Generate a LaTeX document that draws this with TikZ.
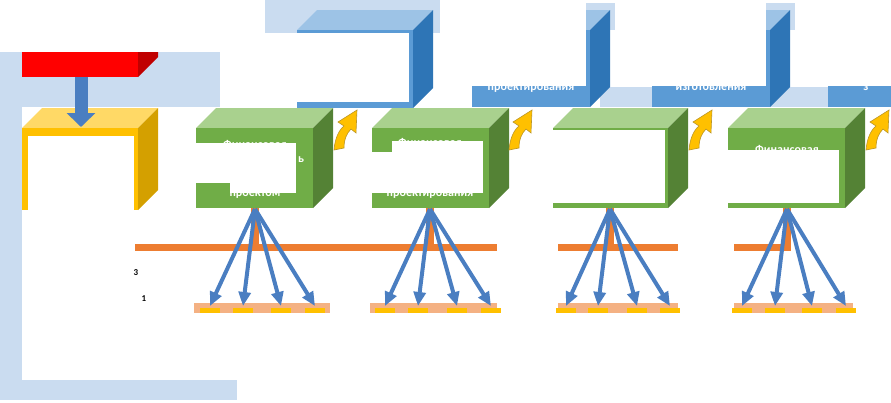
\documentclass[tikz,border=0pt]{standalone}
\usepackage{fontspec}
\setmainfont{Carlito}
\usetikzlibrary{arrows.meta}

\definecolor{paleblue}{RGB}{202,220,240}
\definecolor{bluetop}{RGB}{157,195,230}
\definecolor{bluefront}{RGB}{91,155,213}
\definecolor{blueside}{RGB}{46,117,182}
\definecolor{redfront}{RGB}{255,0,0}
\definecolor{redside}{RGB}{192,0,0}
\definecolor{yeltop}{RGB}{255,217,102}
\definecolor{yelfront}{RGB}{255,192,0}
\definecolor{yelside}{RGB}{212,160,0}
\definecolor{grtop}{RGB}{169,209,142}
\definecolor{grfront}{RGB}{112,173,71}
\definecolor{grside}{RGB}{84,130,53}
\definecolor{orng}{RGB}{237,125,49}
\definecolor{salmon}{RGB}{244,177,131}
\definecolor{fanblue}{RGB}{74,126,193}

\tikzset{
  boxtext/.style={text=white, font=\bfseries\fontsize{12}{14}\selectfont, inner sep=0pt},
  fanarrow/.style={fanblue, line width=4pt, -{Triangle[width=12pt,length=14pt]}},
  downarrow/.style={fanblue, line width=13pt, -{Triangle[width=28pt,length=14pt]}},
  bentarrow/.style={fill=yelfront, draw=yelside!70!gray, line width=0.6pt},
  cover/.style={fill=white}
}

% 3D box: front x1,y1,x2,y2, then top, front and side colours
\newcommand\boxthreed[7]{%
  \fill[#5] (#1,#2) -- (#1+20,#2-20) -- (#3+20,#2-20) -- (#3,#2) -- cycle;
  \fill[#6] (#1,#2) rectangle (#3,#4);
  \fill[#7] (#3,#2) -- (#3+20,#2-20) -- (#3+20,#4-20) -- (#3,#4) -- cycle;}

% yellow bent arrow, from its lower left corner
\newcommand\bentarrow[1]{%
  \draw[bentarrow, shift={#1}] (0,0) .. controls (1,-12) and (5,-20) .. (10,-24)
    -- (4,-28) -- (23,-40) -- (22,-17) -- (17,-21) .. controls (13,-17) and (10,-11) .. (10,-2) -- cycle;}

\begin{document}
\begin{tikzpicture}[x=1pt, y=-1pt]
\useasboundingbox (0,0) rectangle (891,402);

% shadows
\fill[paleblue] (0,52) rectangle (220,107);
\fill[paleblue] (0,52) rectangle (22,400);
\fill[paleblue] (0,380) rectangle (237,400);
\fill[paleblue] (265,0) rectangle (440,33);
\fill[paleblue] (585,3) rectangle (615,30);
\fill[paleblue] (765,3) rectangle (795,30);
\fill[paleblue] (600,87) rectangle (652,107);
\fill[paleblue] (770,87) rectangle (830,107);

% red bar
\fill[redfront] (22,52) rectangle (138,77);
\fill[redside] (138,52) -- (158,52) -- (158,57) -- (138,77) -- cycle;

% blue boxes
\boxthreed{297}{30}{413}{108}{bluetop}{bluefront}{blueside}
\fill[cover] (297,33) rectangle (409,102);
\boxthreed{472}{30}{590}{107}{bluetop}{bluefront}{blueside}
\boxthreed{652}{30}{770}{107}{bluetop}{bluefront}{blueside}
\fill[bluefront] (828,86) rectangle (891,107);
\node[boxtext] (proj) at (531,88) {проектирования};
\node[boxtext] (izg) at (711,88) {изготовления};
\node[boxtext] (ekspl) at (866,88) {з};
\fill[cover] (440,0) rectangle (586,86);
\fill[cover] (615,0) rectangle (766,86);
\fill[cover] (795,0) rectangle (891,86);

% yellow box
\boxthreed{22}{128}{138}{210}{yeltop}{yelfront}{yelside}
\fill[cover] (28,136) rectangle (134,210);
\coordinate (redbot) at (81,77);
\coordinate (yelin) at (81,127);
\draw[downarrow] (redbot) -- (yelin);

% green boxes
\boxthreed{196}{128}{313}{208}{grtop}{grfront}{grside}
\node[boxtext] (fin1) at (255,144) {Финансовая};
\node[boxtext] (pr1) at (255,194) {проектом};
\node[boxtext] (mid1) at (301,160) {ь};
\fill[cover] (230,143) rectangle (296,193);
\fill[cover] (196,143) rectangle (230,183);

\boxthreed{372}{128}{489}{208}{grtop}{grfront}{grside}
\node[boxtext] (fin2) at (430,142) {Финансовая};
\node[boxtext] (pr2) at (430,194) {проектирования};
\fill[cover] (392,141) rectangle (483,193);
\fill[cover] (372,152) rectangle (392,193);

\boxthreed{553}{128}{668}{208}{grtop}{grfront}{grside}
\fill[cover] (553,130) rectangle (665,203);

\boxthreed{728}{128}{845}{208}{grtop}{grfront}{grside}
\node[boxtext] (fin4) at (787,149) {Финансовая};
\fill[cover] (728,150) rectangle (839,203);

% bent arrows
\bentarrow{(334,150)}
\bentarrow{(509,150)}
\bentarrow{(689,150)}
\bentarrow{(866,150)}

% orange rails
\fill[orng] (135,244) rectangle (497,251);
\fill[orng] (558,244) rectangle (678,251);
\fill[orng] (734,244) rectangle (791,251);
\fill[orng] (251,208) rectangle (259,250);
\fill[orng] (426,208) rectangle (434,250);
\fill[orng] (606,208) rectangle (614,250);
\fill[orng] (783,208) rectangle (791,250);

% salmon bars
\fill[salmon] (194,303) rectangle (330,313);
\fill[salmon] (370,303) rectangle (497,313);
\fill[salmon] (558,303) rectangle (678,313);
\fill[salmon] (734,303) rectangle (853,313);

% fan arrows
\coordinate (g1) at (255,209);
\coordinate (g2) at (430,209);
\coordinate (g3) at (610,209);
\coordinate (g4) at (787,209);
\foreach \g/\a/\b/\c/\d in {1/210/243/281/315, 2/385/418/457/491, 3/566/598/637/670, 4/742/775/812/846}{
  \foreach \t in {\a,\b,\c,\d}{
    \fill[yelfront] (\t-10,308) rectangle (\t+10,313);
    \coordinate (t\g-\t) at (\t,306);
    \draw[fanarrow] (g\g) -- (t\g-\t);
  }
}

% stray marks
\node[font=\bfseries\small, inner sep=0pt] (mka) at (136,273) {3};
\node[font=\bfseries\small, inner sep=0pt] (mkb) at (144,299) {1};
\end{tikzpicture}
\end{document}
